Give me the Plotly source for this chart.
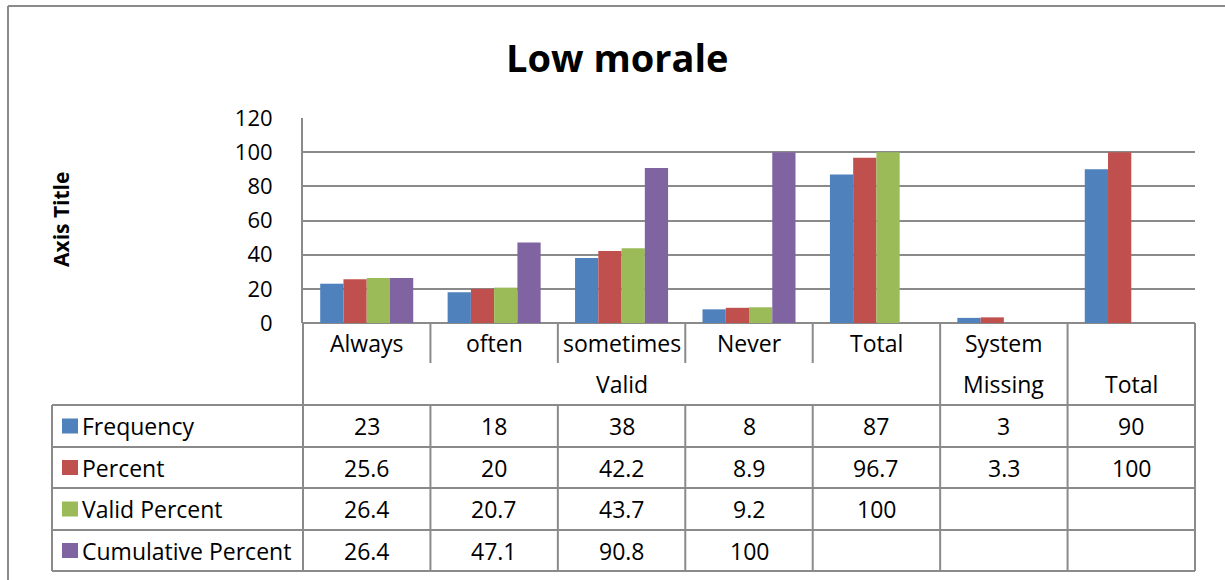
import plotly.graph_objects as go

# ---- data -------------------------------------------------------------
level1_labels = ["Always", "often", "sometimes", "Never", "Total", "System", ""]
level2_groups = [("Valid", 0, 4), ("Missing", 5, 5), ("Total", 6, 6)]
series_names = ["Frequency", "Percent", "Valid Percent", "Cumulative Percent"]
frequency = [23, 18, 38, 8, 87, 3, 90]
percent = [25.6, 20, 42.2, 8.9, 96.7, 3.3, 100]
valid_percent = [26.4, 20.7, 43.7, 9.2, 100, None, None]
cumulative_percent = [26.4, 47.1, 90.8, 100, None, None, None]
y_ticks = [0, 20, 40, 60, 80, 100, 120]

series_values = [frequency, percent, valid_percent, cumulative_percent]
colors = ["#4F81BD", "#C0504D", "#9BBB59", "#8064A2"]

# ---- geometry (pixels) ------------------------------------------------
W, H = 1225, 580
FONT = "Open Sans"
GRID = "#8a8a8a"
plot_left, plot_right = 303, 1195
plot_top, plot_bottom = 118, 323
cat_row_mid = 363
table_top = 405
row_edges = [405, 447, 488, 530, 571]
table_left = 52


def px(x):
    return x / W


def py(y):
    return 1 - y / H


n = len(level1_labels)
xdom = [px(plot_left), px(plot_right)]
ydom = [py(plot_bottom), py(plot_top)]


def col_edge(i):
    # paper x of the boundary to the left of column i
    return xdom[0] + i / n * (xdom[1] - xdom[0])


x_idx = list(range(n))

fig = go.Figure()
for name, vals, c in zip(series_names, series_values, colors):
    fig.add_trace(go.Bar(x=x_idx, y=vals, name=name, marker=dict(color=c, line=dict(width=0))))

shapes = []


def line(x0, y0, x1, y1, w=2):
    shapes.append(dict(type="line", xref="paper", yref="paper",
                       x0=x0, y0=y0, x1=x1, y1=y1,
                       line=dict(color=GRID, width=w)))


# outer chart frame
line(px(8), py(6), px(1225), py(6))
line(px(8), py(6), px(8), py(580))

# category axis dividers, first label row
for i in range(n + 1):
    line(col_edge(i), py(plot_bottom), col_edge(i), py(cat_row_mid))
# second label row: group boundaries
for i in [0, 5, 6, 7]:
    line(col_edge(i), py(cat_row_mid), col_edge(i), py(table_top))

# data table grid
for y in row_edges:
    line(px(table_left), py(y), col_edge(n), py(y))
line(px(table_left), py(row_edges[0]), px(table_left), py(row_edges[-1]))
for i in range(n + 1):
    line(col_edge(i), py(row_edges[0]), col_edge(i), py(row_edges[-1]))

annotations = []
TXT = dict(family=FONT, size=23, color="#000000")


def label(text, x, y, xref="paper", xanchor="center", font=TXT, **kw):
    annotations.append(dict(text=text, xref=xref, yref="paper", x=x, y=y,
                            xanchor=xanchor, yanchor="middle", showarrow=False,
                            font=font, **kw))


# title and axis title
label("<b>Low morale</b>", px(617), py(57),
      font=dict(family=FONT, size=38, color="#000000"))
label("<b>Axis Title</b>", px(61), py(220), textangle=-90,
      font=dict(family=FONT, size=21, color="#000000"))

# category labels
for i, lab in enumerate(level1_labels):
    if lab:
        label(lab, i, py(343), xref="x")
for lab, a, b in level2_groups:
    label(lab, (a + b) / 2, py(384), xref="x")

# table rows: legend key + values
for r, (name, vals, c) in enumerate(zip(series_names, series_values, colors)):
    yc = (row_edges[r] + row_edges[r + 1]) / 2
    shapes.append(dict(type="rect", xref="paper", yref="paper",
                       x0=px(62), x1=px(78), y0=py(yc - 7.5), y1=py(yc + 7.5),
                       fillcolor=c, line=dict(width=0)))
    label(name, px(80), py(yc), xanchor="left")
    for i, v in enumerate(vals):
        if v is not None:
            label(f"{v:g}", i, py(yc), xref="x")

fig.update_layout(
    width=W, height=H, autosize=False,
    margin=dict(l=0, r=0, t=0, b=0, pad=0, autoexpand=False),
    paper_bgcolor="white", plot_bgcolor="white",
    barmode="group", bargap=0.27, bargroupgap=0,
    showlegend=False,
    font=TXT,
    xaxis=dict(domain=xdom, range=[-0.5, n - 0.5], showticklabels=False,
               showgrid=False, zeroline=False, showline=False, ticks="",
               automargin=False),
    yaxis=dict(domain=ydom, range=[0, 120], tickvals=y_ticks,
               showgrid=True, gridcolor=GRID, gridwidth=2,
               zeroline=True, zerolinecolor=GRID, zerolinewidth=2,
               showline=True, linecolor=GRID, linewidth=2,
               ticks="", ticklabelstandoff=24, automargin=False,
               tickfont=dict(family=FONT, size=22, color="#000000")),
    shapes=shapes,
    annotations=annotations,
)

fig.write_html("out.html")
